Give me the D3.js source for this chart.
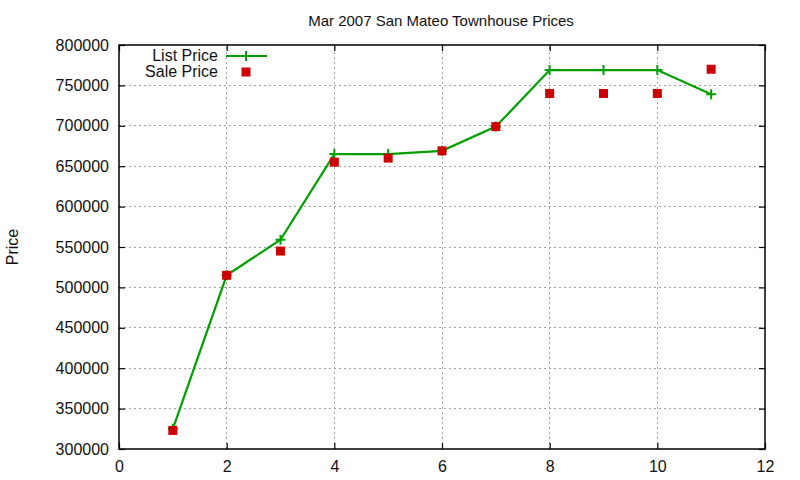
<!DOCTYPE html>
<html>
<head>
<meta charset="utf-8">
<script src="https://cdn.jsdelivr.net/npm/d3@7"></script>
<style>
  body { margin: 0; background: #fff; }
  text { font-family: "Liberation Sans", Arial, sans-serif; fill: #111; }
</style>
</head>
<body>
<svg id="chart" width="800" height="480"></svg>
<script>
// data
const days = [1, 2, 3, 4, 5, 6, 7, 8, 9, 10, 11];
const listPrice = [325000, 515000, 559000, 665000, 665000, 669000, 699000, 769000, 769000, 769000, 739000];
const salePrice = [323000, 515000, 545000, 655000, 660000, 669000, 699000, 740000, 740000, 740000, 770000];
const xTicks = [0, 2, 4, 6, 8, 10, 12];
const yTicks = [300000, 350000, 400000, 450000, 500000, 550000, 600000, 650000, 700000, 750000, 800000];

const W = 800, H = 480;
const m = { left: 119, right: 35, top: 45, bottom: 31 };
const green = "#00a000", red = "#cc0000";

const svg = d3.select("#chart");

let x = d3.scaleLinear().domain([0, 12]).range([m.left, W - m.right]);
let y = d3.scaleLinear().domain([300000, 800000]).range([H - m.bottom, m.top]);

// grid
const grid = svg.append("g").attr("stroke", "#a0a0a0").attr("stroke-width", 1)
    .attr("stroke-dasharray", "2,3").attr("shape-rendering", "crispEdges");
grid.selectAll("line.gx").data(xTicks.slice(1, -1)).join("line")
    .attr("x1", d => x(d)).attr("x2", d => x(d))
    .attr("y1", y.range()[0]).attr("y2", y.range()[1]);
grid.selectAll("line.gy").data(yTicks.slice(1, -1)).join("line")
    .attr("x1", x.range()[0]).attr("x2", x.range()[1])
    .attr("y1", d => y(d)).attr("y2", d => y(d));

// axes, ticks pointing inward, mirrored
const fs = 15;
svg.append("g").attr("transform", `translate(0,${y.range()[0]})`)
    .call(d3.axisBottom(x).tickValues(xTicks).tickSize(-6).tickPadding(12).tickFormat(d3.format("d")))
    .call(g => g.select(".domain").remove());
svg.append("g").attr("transform", `translate(0,${y.range()[1]})`)
    .call(d3.axisTop(x).tickValues(xTicks).tickSize(-6).tickFormat(""))
    .call(g => g.select(".domain").remove());
svg.append("g").attr("transform", `translate(${x.range()[0]},0)`)
    .call(d3.axisLeft(y).tickValues(yTicks).tickSize(-6).tickPadding(10).tickFormat(d3.format("d")))
    .call(g => g.select(".domain").remove());
svg.append("g").attr("transform", `translate(${x.range()[1]},0)`)
    .call(d3.axisRight(y).tickValues(yTicks).tickSize(-6).tickFormat(""))
    .call(g => g.select(".domain").remove());
svg.selectAll(".tick text").attr("font-size", fs + 1).attr("fill", "#111")
    .attr("font-family", "Liberation Sans, Arial, sans-serif");
svg.selectAll(".tick line").attr("stroke", "#000").attr("stroke-width", 1.2);

svg.append("rect")
    .attr("x", x.range()[0]).attr("y", y.range()[1])
    .attr("width", x.range()[1] - x.range()[0]).attr("height", y.range()[0] - y.range()[1])
    .attr("fill", "none").attr("stroke", "#000").attr("stroke-width", 1.5);

// list price line
const line = d3.line().x((d, i) => x(days[i])).y(d => y(d));
svg.append("path").datum(listPrice).attr("d", line)
    .attr("fill", "none").attr("stroke", green).attr("stroke-width", 2.2);

function plus(g, cx, cy) {
    g.append("path").attr("d", `M${cx - 5},${cy}H${cx + 5}M${cx},${cy - 5}V${cy + 5}`)
        .attr("stroke", green).attr("stroke-width", 2).attr("fill", "none");
}
listPrice.forEach((v, i) => plus(svg, x(days[i]), y(v)));

// sale price squares
const sq = 9;
svg.append("g").selectAll("rect").data(salePrice).join("rect")
    .attr("x", (d, i) => x(days[i]) - sq / 2).attr("y", d => y(d) - sq / 2)
    .attr("width", sq).attr("height", sq).attr("fill", red);

// legend
svg.append("text").attr("x", 218).attr("y", 61).attr("text-anchor", "end")
    .attr("font-size", fs + 1).text("List Price");
svg.append("line").attr("x1", 226).attr("x2", 267).attr("y1", 56).attr("y2", 56)
    .attr("stroke", green).attr("stroke-width", 2.2);
plus(svg, 246, 56);
svg.append("text").attr("x", 218).attr("y", 77).attr("text-anchor", "end")
    .attr("font-size", fs + 1).text("Sale Price");
svg.append("rect").attr("x", 246 - sq / 2).attr("y", 72 - sq / 2)
    .attr("width", sq).attr("height", sq).attr("fill", red);

// title & axis label
svg.append("text").attr("x", 441).attr("y", 26).attr("text-anchor", "middle")
    .attr("font-size", fs).text("Mar 2007 San Mateo Townhouse Prices");
svg.append("text").attr("transform", "translate(18,247) rotate(-90)").attr("text-anchor", "middle")
    .attr("font-size", fs + 1).text("Price");
</script>
</body>
</html>
